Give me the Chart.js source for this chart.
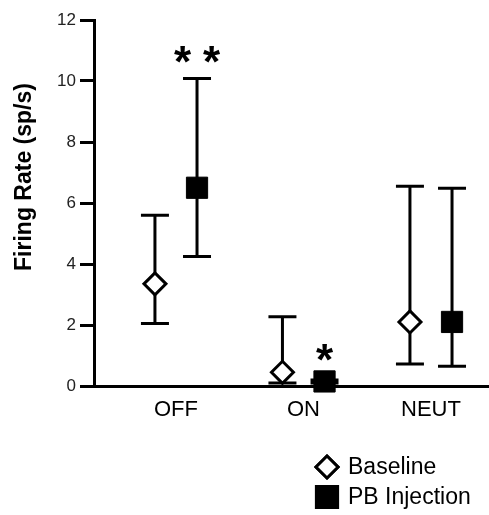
<!DOCTYPE html>
<html>
<head>
<meta charset="utf-8">
<style>
html, body { margin: 0; padding: 0; background: #fff; overflow: hidden; }
#firingChart { display: block; }
</style>
<script src="https://cdn.jsdelivr.net/npm/chart.js@4"></script>
</head>
<body>
<canvas id="firingChart" width="489" height="515"></canvas>
<script>
// values
const categories = ['OFF', 'ON', 'NEUT'];
const baselineMean = [3.35, 0.45, 2.1];
const baselineLow = [2.05, 0.1, 0.72];
const baselineHigh = [5.6, 2.27, 6.55];
const pbMean = [6.5, 0.15, 2.1];
const pbLow = [4.25, 0.1, 0.65];
const pbHigh = [10.08, 0.2, 6.48];
const stars = ['**', '*', ''];
const yTicks = [0, 2, 4, 6, 8, 10, 12];
const yTitle = 'Firing Rate (sp/s)';

const FONT = '"Liberation Sans", Arial, sans-serif';
const shift = 0.165; // side offset of the two groups inside a category

// error bars go under the markers, stars and axis title on top
const errorBars = {
    id: 'errorBars',
    beforeDatasetsDraw(chart) {
        const ctx = chart.ctx;
        const x = chart.scales.x, y = chart.scales.y;
        ctx.save();
        ctx.strokeStyle = '#000';
        ctx.lineWidth = 3;
        chart.data.datasets.forEach(ds => {
            ds.data.forEach((p, i) => {
                const px = x.getPixelForValue(p.x);
                const lo = y.getPixelForValue(ds.errLow[i]);
                const hi = y.getPixelForValue(ds.errHigh[i]);
                ctx.beginPath();
                ctx.moveTo(px, lo); ctx.lineTo(px, hi);
                ctx.moveTo(px - 14, lo); ctx.lineTo(px + 14, lo);
                ctx.moveTo(px - 14, hi); ctx.lineTo(px + 14, hi);
                ctx.stroke();
            });
        });
        ctx.restore();
    },
    afterDatasetsDraw(chart) {
        const ctx = chart.ctx;
        const x = chart.scales.x, y = chart.scales.y;
        ctx.save();
        ctx.fillStyle = '#000';
        ctx.textAlign = 'center';
        ctx.textBaseline = 'alphabetic';
        ctx.font = 'bold 44px ' + FONT;
        stars.forEach((s, i) => {
            if (!s) return;
            const px = x.getPixelForValue(i + shift);
            const base = Math.min(y.getPixelForValue(pbHigh[i]) - 2, y.getPixelForValue(pbMean[i]) - 6);
            const n = s.length;
            for (let k = 0; k < n; k++) {
                ctx.fillText('*', px + (k - (n - 1) / 2) * 29, base);
            }
        });

        // y axis title, sits a bit above the middle like the original
        ctx.font = 'bold 23px ' + FONT;
        ctx.translate(31, chart.chartArea.top + 157);
        ctx.rotate(-Math.PI / 2);
        ctx.fillText(yTitle, 0, 0);
        ctx.restore();
    }
};

const sideLegend = {
    id: 'sideLegend',
    afterDraw(chart) {
        const ctx = chart.ctx;
        const lx = chart.width - 162;
        const rows = [chart.height - 48, chart.height - 18];
        ctx.save();
        chart.data.datasets.forEach((ds, k) => {
            Chart.helpers.drawPoint(ctx, {
                pointStyle: ds.pointStyle,
                radius: ds.pointRadius,
                borderWidth: ds.borderWidth,
                rotation: 0
            }, lx, rows[k]);
            ctx.fillStyle = ds.backgroundColor;
            ctx.strokeStyle = ds.borderColor;
            ctx.lineWidth = ds.borderWidth;
            ctx.fill();
            ctx.stroke();
            ctx.fillStyle = '#000';
            ctx.font = '23px ' + FONT;
            ctx.textAlign = 'left';
            ctx.textBaseline = 'middle';
            ctx.fillText(ds.label, lx + 21, rows[k] + 1);
        });
        ctx.restore();
    }
};

const datasets = [
    {
        label: 'Baseline',
        data: categories.map((c, i) => ({ x: i - shift, y: baselineMean[i] })),
        errLow: baselineLow,
        errHigh: baselineHigh,
        pointStyle: 'rectRot',
        pointRadius: 11,
        backgroundColor: '#fff',
        borderColor: '#000',
        borderWidth: 3,
        clip: false
    },
    {
        label: 'PB Injection',
        data: categories.map((c, i) => ({ x: i + shift, y: pbMean[i] })),
        errLow: pbLow,
        errHigh: pbHigh,
        pointStyle: 'rect',
        pointRadius: 15,
        backgroundColor: '#000',
        borderColor: '#000',
        borderWidth: 1,
        clip: false
    }
];

new Chart(document.getElementById('firingChart'), {
    type: 'scatter',
    data: { datasets: datasets },
    options: {
        responsive: false,
        animation: false,
        layout: { autoPadding: false, padding: { top: 20, right: 0, left: 0, bottom: 0 } },
        plugins: {
            legend: { display: false },
            tooltip: { enabled: false }
        },
        scales: {
            x: {
                type: 'linear',
                min: -0.643,
                max: 2.455,
                afterBuildTicks: s => { s.ticks = categories.map((c, i) => ({ value: i })); },
                afterFit: s => {
                    s.height = 129;
                    s.paddingLeft = 0;
                    s.paddingRight = 0;
                },
                ticks: {
                    callback: v => categories[v],
                    color: '#000',
                    font: { family: FONT, size: 22 },
                    padding: 3,
                    maxRotation: 0
                },
                grid: { display: false },
                border: { display: true, color: '#000', width: 3 }
            },
            y: {
                min: 0,
                max: 12,
                afterBuildTicks: s => { s.ticks = yTicks.map(v => ({ value: v })); },
                afterFit: s => { s.width = 94; },
                ticks: {
                    color: '#222',
                    font: { family: FONT, size: 17 },
                    padding: 4
                },
                grid: {
                    display: true,
                    drawOnChartArea: false,
                    drawTicks: true,
                    tickLength: 14,
                    lineWidth: 3,
                    color: '#000'
                },
                border: { display: true, color: '#000', width: 3 },
                title: { display: false }
            }
        }
    },
    plugins: [errorBars, sideLegend]
});
</script>
</body>
</html>
